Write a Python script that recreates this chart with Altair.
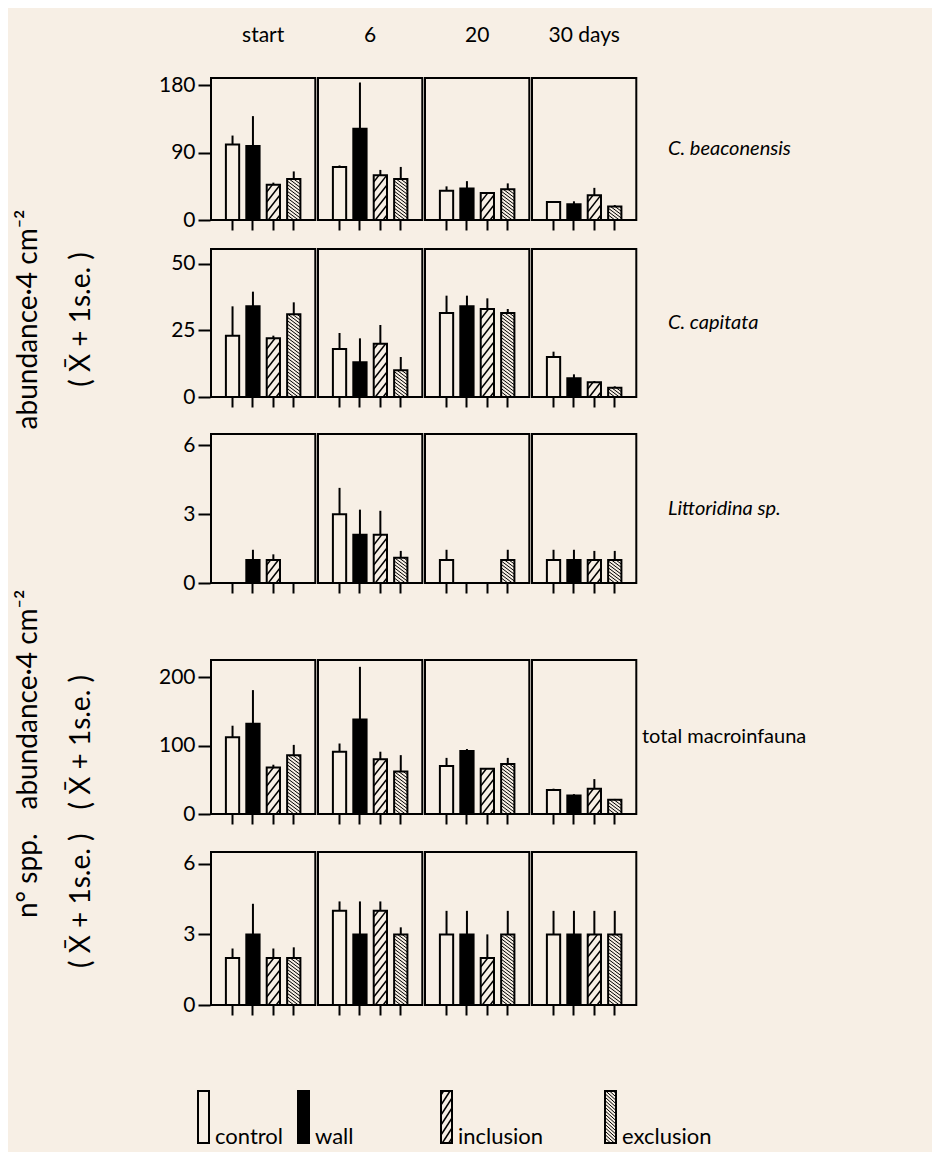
import altair as alt
import pandas as pd

# ---------------- data ----------------
days = ["start", "6", "20", "30 days"]
treatments = ["control", "wall", "inclusion", "exclusion"]

# mean and (mean + 1 s.e.) ; one inner list per day, values in treatment order
beac_mean = [[101, 99, 47, 55], [71, 122, 60, 55], [39, 42, 36, 41], [24, 21, 33, 18]]
beac_top = [[113, 139, 50, 65], [73, 184, 67, 71], [45, 52, 37, 49], [25, 25, 43, 20]]

capi_mean = [[23, 34, 22, 31], [18, 13, 20, 10], [31.5, 34, 33, 31.5], [15, 7, 5.5, 3.5]]
capi_top = [[34, 39.5, 23, 35.5], [24, 22, 27, 15], [38, 38, 37, 33], [17, 8.5, 6, 4]]

litt_mean = [[0, 1, 1, 0], [3, 2.1, 2.1, 1.1], [1, 0, 0, 1], [1, 1, 1, 1]]
litt_top = [[0, 1.45, 1.25, 0], [4.15, 3.2, 3.15, 1.4], [1.45, 0, 0, 1.45], [1.45, 1.45, 1.4, 1.4]]

total_mean = [[112, 132, 68, 86], [91, 138, 80, 62], [70, 92, 66, 73], [35, 27, 37, 21]]
total_top = [[129, 181, 72, 101], [103, 215, 91, 86], [82, 95, 67, 82], [37, 29, 51, 22]]

spp_mean = [[2, 3, 2, 2], [4, 3, 4, 3], [3, 3, 2, 3], [3, 3, 3, 3]]
spp_top = [[2.4, 4.3, 2.4, 2.45], [4.4, 4.4, 4.4, 3.3], [4, 4, 3, 4], [4, 4, 4, 4]]

row_labels = ["C. beaconensis", "C. capitata", "Littoridina sp.", "total macroinfauna", " "]
y_ticks = [[0, 90, 180], [0, 25, 50], [0, 3, 6], [0, 100, 200], [0, 3, 6]]
y_max = [190, 55.5, 6.5, 225, 6.5]
abund_title = ["abundance\u00b74 cm\u207b\u00b2", "( X\u0304 + 1s.e. )"]
spp_title = ["n\u00b0 spp.", "( X\u0304 + 1s.e. )"]

# ---------------- style / layout ----------------
BG = "#f7efe5"
FONT = "Lato"
PAD_IN = 0.35
PAD_OUT = 0.73
CELL_W = 104.3
STEP_UNITS = len(treatments) - PAD_IN + 2 * PAD_OUT
HATCH = {
    "inclusion": dict(spacing=10.0, rise=17.0, slash=True, width=1.5),
    "exclusion": dict(spacing=3.4, rise=10.0, slash=False, width=1.0),
}


def hatch(v_px, w_px, spacing, rise, slash):
    """Clip diagonal hatch lines to a w_px x v_px rectangle (pixel units)."""
    segs = []
    if v_px <= 0:
        return segs
    if slash:  # '/'  y = c + rise * x / w
        c = -rise + spacing / 2
        while c < v_px:
            xa = max(0.0, -c * w_px / rise)
            xb = min(w_px, (v_px - c) * w_px / rise)
            if xb > xa:
                segs.append((xa, c + rise * xa / w_px, xb, c + rise * xb / w_px))
            c += spacing
    else:  # '\'  y = c - rise * x / w
        c = spacing / 2
        while c < v_px + rise:
            xa = max(0.0, (c - v_px) * w_px / rise)
            xb = min(w_px, c * w_px / rise)
            if xb > xa:
                segs.append((xa, c - rise * xa / w_px, xb, c - rise * xb / w_px))
            c += spacing
    return segs


def build_table(mean, top, label, dmax, h):
    ppu = h / dmax
    step_px = CELL_W / STEP_UNITS
    w_px = step_px * (1 - PAD_IN)
    recs = []
    for d, day in enumerate(days):
        for i, t in enumerate(treatments):
            v, e = mean[d][i], top[d][i]
            recs.append(dict(kind="bar", day=day, treatment=t, value=v, err=e,
                             label=label, hx=0.0, hx2=0.0))
            if t in HATCH and v > 0:
                hs = HATCH[t]
                for xa, ya, xb, yb in hatch(v * ppu, w_px, hs["spacing"], hs["rise"], hs["slash"]):
                    recs.append(dict(kind="hatch", day=day, treatment=t,
                                     value=ya / ppu, err=yb / ppu, label=label,
                                     hx=PAD_OUT + i + xa / step_px,
                                     hx2=PAD_OUT + i + xb / step_px))
    return pd.DataFrame(recs)


def row_chart(mean, top, label, ticks, dmax, h, title=None, title_y=None,
              title_align="center", label_pad=30, italic=True, first=False):
    df = build_table(mean, top, label, dmax, h)
    ysc = alt.Scale(domain=[0, dmax], nice=False, zero=True)
    ax_kw = dict(values=ticks)
    if title is not None:
        ax_kw.update(title=title, titleX=-182, titleAngle=270, titleBaseline="middle",
                     titleAlign=title_align, titleLineHeight=53)
        if title_y is not None:
            ax_kw.update(titleY=title_y)
    else:
        ax_kw.update(title=None)
    yax = alt.Axis(**ax_kw)

    def Y():
        return alt.Y("value:Q", scale=ysc, axis=yax)

    xband = alt.Scale(domain=treatments, paddingInner=PAD_IN, paddingOuter=PAD_OUT)
    xaxis = alt.Axis(labels=False, domain=False, ticks=True, tickSize=10, tickWidth=2,
                     tickColor="black", grid=False, title=None)
    base = alt.Chart()
    is_bar = "datum.kind == 'bar' && datum.value > 0"

    fill = base.mark_bar().encode(
        x=alt.X("treatment:N", scale=xband, axis=xaxis),
        y=Y(),
        fill=alt.Fill("treatment:N", scale=alt.Scale(domain=treatments,
                                                     range=[BG, "black", BG, BG]), legend=None),
    ).transform_filter(is_bar)

    hx = alt.X("hx:Q", scale=alt.Scale(domain=[0, STEP_UNITS], nice=False, zero=False), axis=None)
    h_layers = []
    for t, hs in HATCH.items():
        h_layers.append(
            base.mark_rule(color="black", strokeWidth=hs["width"]).encode(
                x=hx, x2="hx2:Q", y=Y(), y2="err:Q"
            ).transform_filter(f"datum.kind == 'hatch' && datum.treatment == '{t}'")
        )
    hgroup = alt.layer(*h_layers)

    xtop = alt.X("treatment:N", scale=xband, axis=None)
    outline = base.mark_bar(fill="transparent", stroke="black", strokeWidth=2).encode(
        x=xtop, y=Y()).transform_filter(is_bar)
    errs = base.mark_rule(color="black", strokeWidth=2).encode(
        x=xtop, y=Y(), y2="err:Q").transform_filter("datum.kind == 'bar' && datum.err > datum.value")
    topg = alt.layer(outline, errs)

    lay = alt.layer(fill, hgroup, topg, data=df).resolve_scale(x="independent").properties(
        width=CELL_W, height=h)

    if first:
        col_header = alt.Header(title=None, labelFontSize=21, labelPadding=31, labelColor="black")
    else:
        col_header = alt.Header(labels=False, title=None)
    row_header = alt.Header(title=None, labelOrient="right", labelAngle=0, labelAlign="right",
                            labelBaseline="middle", labelFontSize=20, labelColor="black",
                            labelFontStyle="italic" if italic else "normal",
                            labelPadding=label_pad)
    return lay.facet(
        column=alt.Column("day:N", sort=days, header=col_header),
        row=alt.Row("label:N", header=row_header),
        spacing=0,
    ).resolve_scale(x="independent")


r1 = row_chart(beac_mean, beac_top, row_labels[0], y_ticks[0], y_max[0], 142, first=True)
r2 = row_chart(capi_mean, capi_top, row_labels[1], y_ticks[1], y_max[1], 148,
               title=abund_title, title_y=70)
r3 = row_chart(litt_mean, litt_top, row_labels[2], y_ticks[2], y_max[2], 149)
r4 = row_chart(total_mean, total_top, row_labels[3], y_ticks[3], y_max[3], 154,
               title=abund_title, title_y=149, title_align="left", label_pad=4, italic=False)
r5 = row_chart(spp_mean, spp_top, row_labels[4], y_ticks[4], y_max[4], 153,
               title=spp_title, title_y=-19, title_align="right", italic=False)

# ---------------- legend (drawn as a small chart) ----------------
LEG_W, LEG_H, ICON_W = 560, 52, 11
leg_left = [-13, 87, 230, 394]  # icon left edges (px from plot left)
leg_recs = []
for t, lx in zip(treatments, leg_left):
    leg_recs.append(dict(kind="icon", treatment=t, lx=lx, lx2=lx + ICON_W, ly=0, ly2=LEG_H,
                         tx=lx + ICON_W + 6))
    if t in HATCH:
        hs = HATCH[t]
        for xa, ya, xb, yb in hatch(LEG_H, ICON_W, hs["spacing"], hs["rise"], hs["slash"]):
            leg_recs.append(dict(kind="hatch", treatment=t, lx=lx + xa, lx2=lx + xb,
                                 ly=ya, ly2=yb, tx=0))
leg_df = pd.DataFrame(leg_recs)
lxs = alt.Scale(domain=[0, LEG_W], nice=False, zero=False)
lys = alt.Scale(domain=[0, LEG_H], nice=False, zero=False)
lb = alt.Chart()
leg_fill = lb.mark_rect().encode(
    x=alt.X("lx:Q", scale=lxs, axis=None), x2="lx2:Q",
    y=alt.Y("ly:Q", scale=lys, axis=None), y2="ly2:Q",
    fill=alt.Fill("treatment:N", scale=alt.Scale(domain=treatments, range=[BG, "black", BG, BG]),
                  legend=None),
).transform_filter("datum.kind == 'icon'")
leg_h = []
for t, hs in HATCH.items():
    leg_h.append(lb.mark_rule(color="black", strokeWidth=hs["width"]).encode(
        x=alt.X("lx:Q", scale=lxs, axis=None), x2="lx2:Q",
        y=alt.Y("ly:Q", scale=lys, axis=None), y2="ly2:Q",
    ).transform_filter(f"datum.kind == 'hatch' && datum.treatment == '{t}'"))
leg_out = lb.mark_rect(fill="transparent", stroke="black", strokeWidth=2).encode(
    x=alt.X("lx:Q", scale=lxs, axis=None), x2="lx2:Q",
    y=alt.Y("ly:Q", scale=lys, axis=None), y2="ly2:Q",
).transform_filter("datum.kind == 'icon'")
leg_txt = lb.mark_text(align="left", baseline="alphabetic", fontSize=22, font=FONT,
                       color="black").encode(
    x=alt.X("tx:Q", scale=lxs, axis=None),
    y=alt.value(LEG_H + 1),
    text="treatment:N",
).transform_filter("datum.kind == 'icon'")
legend = alt.layer(leg_fill, *leg_h, leg_out, leg_txt, data=leg_df).properties(
    width=LEG_W, height=LEG_H, view=alt.ViewBackground(stroke="transparent"))

g1 = alt.vconcat(r1, alt.vconcat(r2, r3, spacing=4), spacing=-23)
g2 = alt.vconcat(r4, r5, spacing=7)
chart = alt.vconcat(alt.vconcat(g1, g2, spacing=-6), legend, spacing=72).properties(
    padding={"left": 6, "top": 17, "right": 125, "bottom": 3}
).configure(
    background=BG, font=FONT
).configure_view(
    stroke="black", strokeWidth=2
).configure_axis(
    labelFont=FONT, labelFontSize=21, labelColor="black", tickColor="black", tickWidth=2,
    tickSize=12, domain=False, grid=False, labelPadding=3, titleFont=FONT, titleFontSize=28,
    titleFontWeight="normal", titleColor="black",
).configure_header(
    labelFont=FONT, labelColor="black"
)

chart.save("out.html", embed_options={"renderer": "svg", "actions": False})
